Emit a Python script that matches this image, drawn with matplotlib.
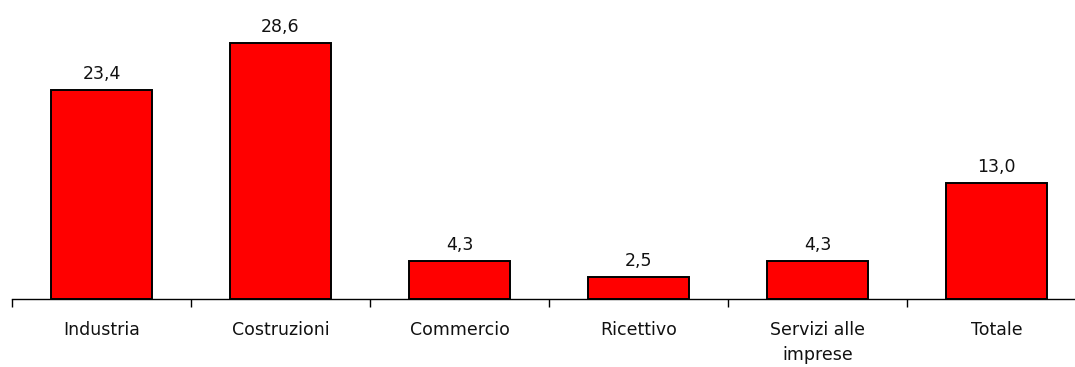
import matplotlib.pyplot as plt
import numpy as np

categories = ["Industria", "Costruzioni", "Commercio", "Ricettivo",
              "Servizi alle\nimprese", "Totale"]
values = [23.4, 28.6, 4.3, 2.5, 4.3, 13.0]

fig = plt.figure(figsize=(10.75, 3.67), dpi=100)
# axis runs slightly past the right edge of the figure
ax = fig.add_axes([12 / 1075, 68 / 367, 1074 / 1075, 299 / 367])

x = np.arange(len(categories))
bars = ax.bar(x, values, width=0.56, color="#ff0000", edgecolor="black", linewidth=1.4)

for xi, v in zip(x, values):
    ax.annotate(f"{v:.1f}".replace(".", ","), (xi, v), xytext=(0, 5),
                textcoords="offset points", ha="center", va="bottom",
                fontsize=12.5, color="#111111")

ax.set_xlim(-0.5, len(categories) - 0.5)
ax.set_ylim(0, 33.4)

for side in ["top", "right", "left"]:
    ax.spines[side].set_visible(False)
ax.spines["bottom"].set_linewidth(1.0)
ax.set_yticks([])

# tick marks between categories, labels centred under the bars
ax.set_xticks(np.arange(len(categories) + 1) - 0.5)
ax.set_xticklabels([])
ax.tick_params(axis="x", which="major", length=6, width=1.0, direction="out")
ax.set_xticks(x, minor=True)
ax.set_xticklabels(categories, minor=True, fontsize=12.5, color="#111111",
                   linespacing=1.45)
ax.tick_params(axis="x", which="minor", length=0, pad=16)

fig.savefig("out.png", dpi=100)
